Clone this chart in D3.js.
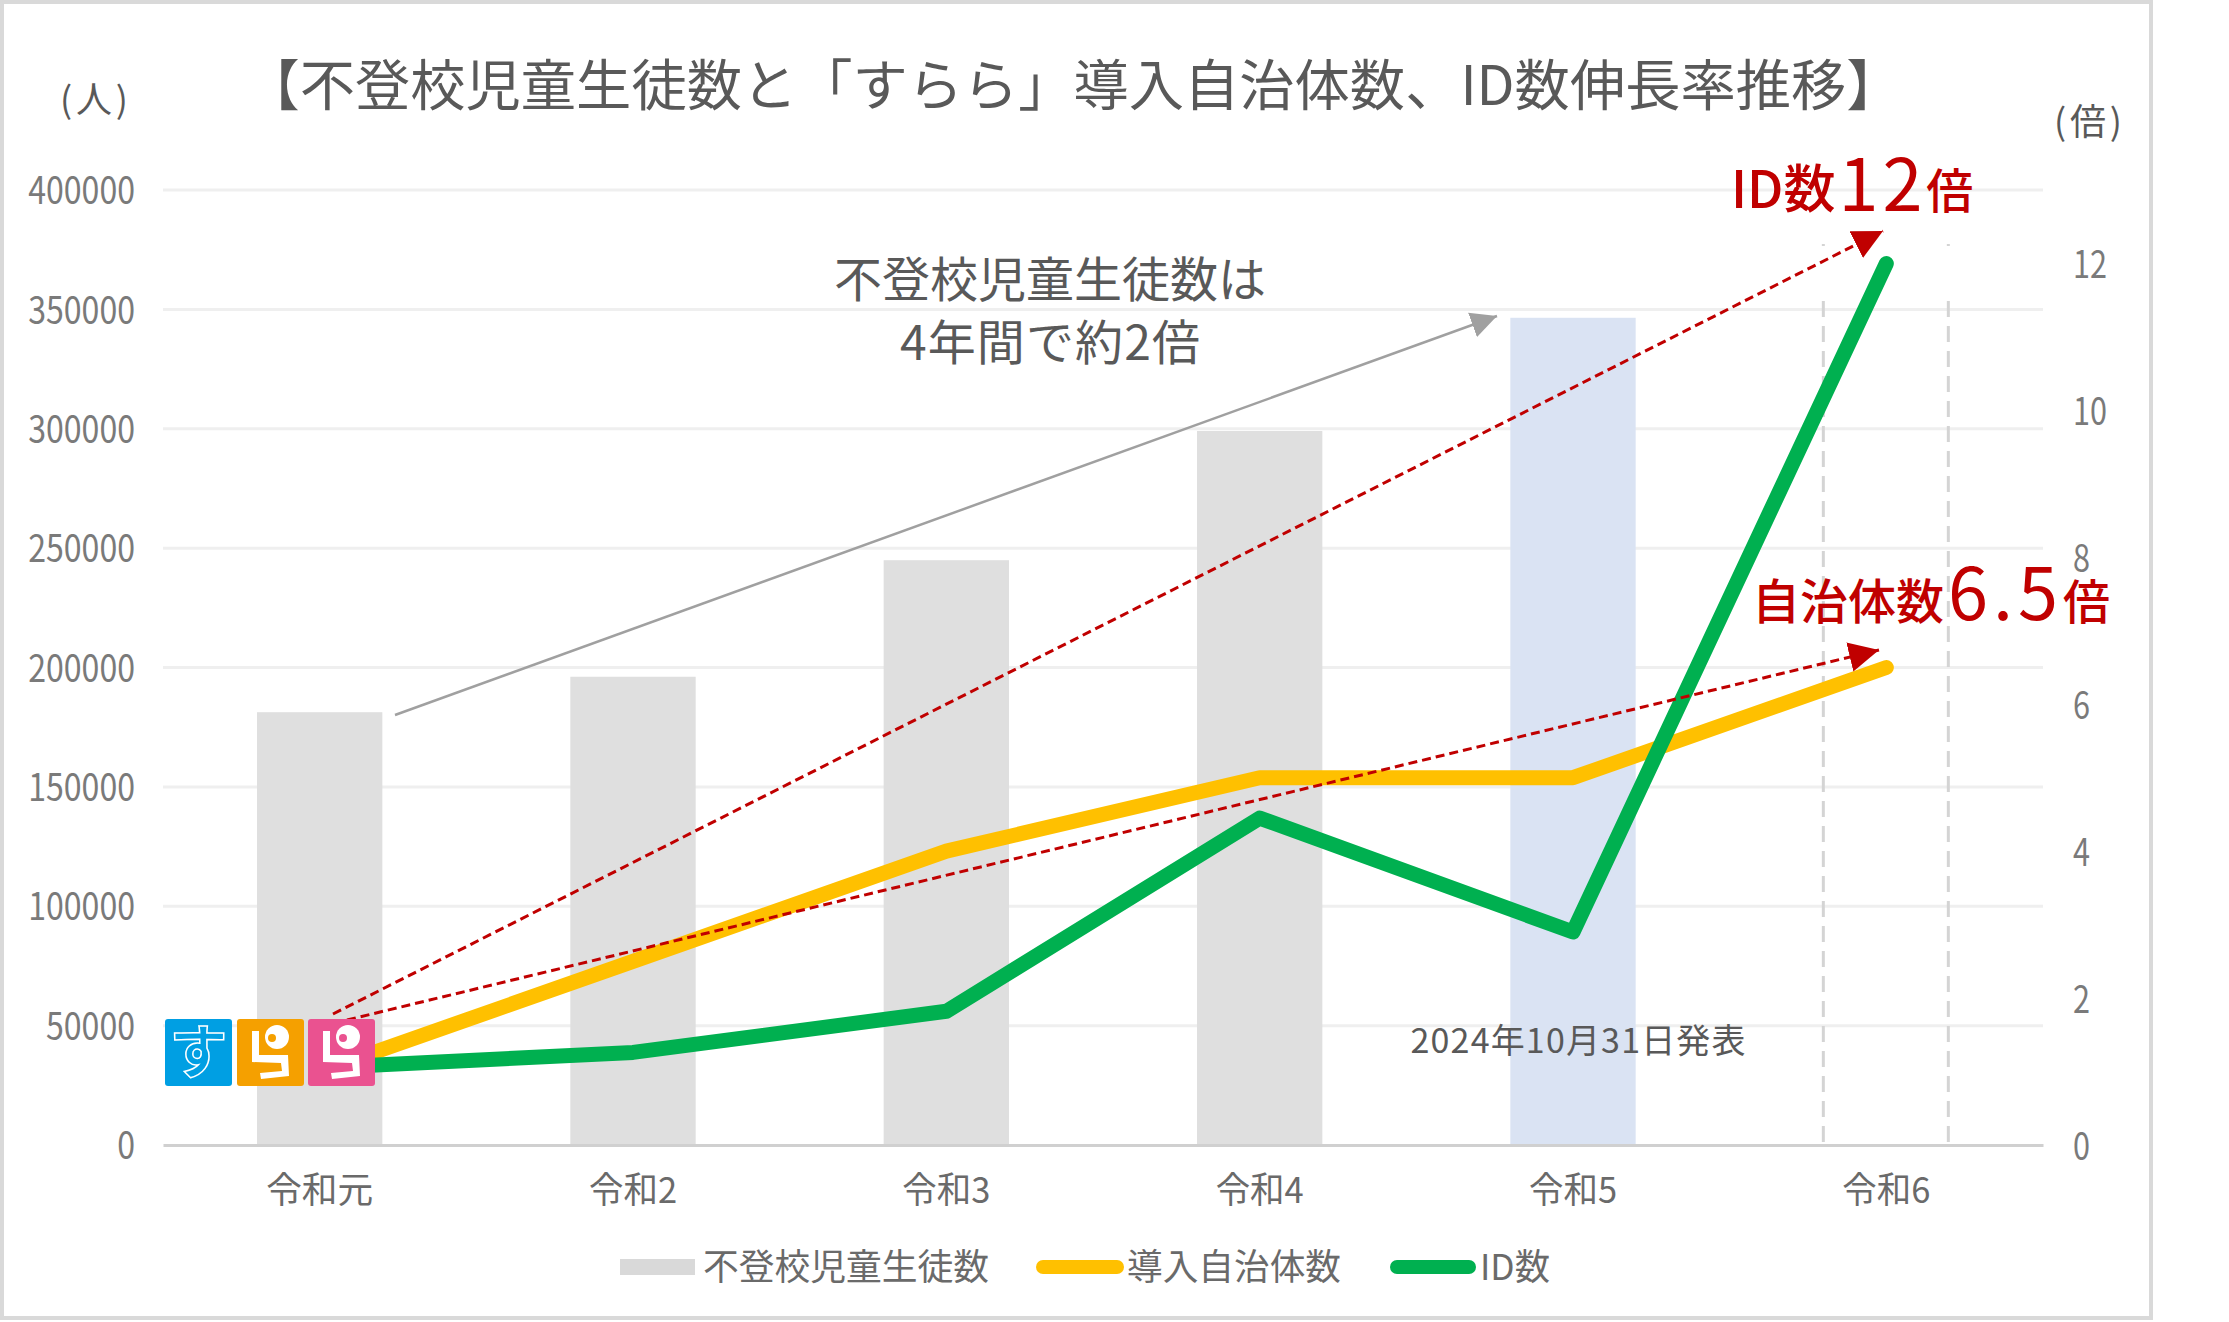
<!DOCTYPE html>
<html lang="ja">
<head>
<meta charset="utf-8">
<title>不登校児童生徒数と「すらら」導入自治体数、ID数伸長率推移</title>
<script src="https://cdn.jsdelivr.net/npm/d3@7"></script>
<style>
  html, body { margin: 0; background: #fff; }
  svg { display: block; }
  text { font-family: "Noto Sans CJK JP", "Noto Sans", sans-serif; fill: #595959; }
</style>
</head>
<body>
<svg id="chart" width="2229" height="1322"></svg>
<script>
// Fiscal years on the shared category axis
const years = ["令和元", "令和2", "令和3", "令和4", "令和5", "令和6"];
// Students absent from school, left axis (no figure yet for the last year)
const absentStudents = [181272, 196127, 244940, 299048, 346482];
// Growth multiples, right axis
const municipalities = [1, 2.5, 4, 5, 5, 6.5];
const idCounts = [1.05, 1.26, 1.82, 4.45, 2.9, 12];
// Axis ticks
const leftTicks = [0, 50000, 100000, 150000, 200000, 250000, 300000, 350000, 400000];
const rightTicks = [0, 2, 4, 6, 8, 10, 12];
// Legend entries
const legendLabels = ["不登校児童生徒数", "導入自治体数", "ID数"];

const plot = { left: 163, right: 2043, top: 190, bottom: 1145 };
const svg = d3.select("#chart");

const x = d3.scaleBand().domain(years).range([plot.left, plot.right]).paddingInner(0.6).paddingOuter(0.3);
const yLeft = d3.scaleLinear().domain([0, 400000]).range([plot.bottom, plot.top]);
const yRight = d3.scaleLinear().domain([0, 13]).range([plot.bottom, plot.top]);
const cx = d => x(d) + x.bandwidth() / 2;

// Outer frame
svg.append("rect").attr("x", 2).attr("y", 2).attr("width", 2149).attr("height", 1316)
  .attr("fill", "#fff").attr("stroke", "#d9d9d9").attr("stroke-width", 4);

// Condense a digit label to the given advance per character
function condense(sel, perChar) {
  sel.attr("textLength", function () { return this.textContent.length * perChar; })
     .attr("lengthAdjust", "spacingAndGlyphs");
}

// Horizontal grid
svg.append("g").selectAll("line").data(leftTicks.filter(t => t > 0)).join("line")
  .attr("x1", plot.left).attr("x2", plot.right)
  .attr("y1", d => yLeft(d)).attr("y2", d => yLeft(d))
  .attr("stroke", "#efefef").attr("stroke-width", 3);

// Bars
svg.append("g").selectAll("rect").data(absentStudents).join("rect")
  .attr("x", (d, i) => x(years[i]))
  .attr("width", x.bandwidth())
  .attr("y", d => yLeft(d))
  .attr("height", d => plot.bottom - yLeft(d))
  .attr("fill", (d, i) => i === 4 ? "#dae3f3" : "#dfdfdf");

// Dashed guides around the latest year
svg.append("g").selectAll("line").data([-63, 62]).join("line")
  .attr("x1", d => cx("令和6") + d).attr("x2", d => cx("令和6") + d)
  .attr("y1", 301).attr("y2", 1143)
  .attr("stroke", "#d4d4d4").attr("stroke-width", 3).attr("stroke-dasharray", "16 9");
svg.append("g").selectAll("line").data([-63, 62]).join("line")
  .attr("x1", d => cx("令和6") + d).attr("x2", d => cx("令和6") + d)
  .attr("y1", 244).attr("y2", 246)
  .attr("stroke", "#d4d4d4").attr("stroke-width", 3);

// Axes
const leftAxis = svg.append("g").attr("transform", `translate(${plot.left},0)`)
  .call(d3.axisLeft(yLeft).tickValues(leftTicks).tickFormat(d3.format("d")).tickSize(0).tickPadding(28));
leftAxis.select(".domain").remove();
leftAxis.selectAll("text").attr("font-size", 38).attr("dy", "0.36em").style("fill", "#7a7a7a").call(condense, 17.8);

const rightAxis = svg.append("g").attr("transform", `translate(${plot.right},0)`)
  .call(d3.axisRight(yRight).tickValues(rightTicks).tickFormat(d3.format("d")).tickSize(0).tickPadding(30));
rightAxis.select(".domain").remove();
rightAxis.selectAll("text").attr("font-size", 38).attr("dy", "0.37em").style("fill", "#7a7a7a").call(condense, 17);

const bottomAxis = svg.append("g").attr("transform", `translate(0,${plot.bottom})`)
  .call(d3.axisBottom(x).tickSize(0).tickPadding(32));
bottomAxis.select(".domain").attr("stroke", "#d0d0d0").attr("stroke-width", 3);
bottomAxis.selectAll("text").attr("font-size", 36).style("fill", "#6a6a6a")
  .attr("textLength", function () { return this.textContent === "令和元" ? 107 : 88; })
  .attr("lengthAdjust", "spacingAndGlyphs");

// Growth lines
const lineFrom = d3.line().x((d, i) => cx(years[i])).y(d => yRight(d));
const seriesLines = [
  { values: municipalities, color: "#ffc000" },
  { values: idCounts, color: "#00b050" }
];
svg.append("g").selectAll("path").data(seriesLines).join("path")
  .attr("d", d => lineFrom(d.values))
  .attr("fill", "none")
  .attr("stroke", d => d.color)
  .attr("stroke-width", 15)
  .attr("stroke-linecap", "round")
  .attr("stroke-linejoin", "round");

// Arrow heads
const defs = svg.append("defs");
[["grayHead", "#a0a0a0", 26, 26], ["redHead", "#c00000", 30, 30]].forEach(([id, fill, w, h]) => {
  defs.append("marker").attr("id", id).attr("markerUnits", "userSpaceOnUse")
    .attr("viewBox", "0 0 10 10").attr("refX", 10).attr("refY", 5)
    .attr("markerWidth", w).attr("markerHeight", h).attr("orient", "auto")
    .append("path").attr("d", "M0,0L10,5L0,10Z").attr("fill", fill);
});

// Trend arrows
const arrows = svg.append("g").attr("fill", "none");
arrows.append("line").attr("x1", 395).attr("y1", 715).attr("x2", 1497).attr("y2", 316)
  .attr("stroke", "#a0a0a0").attr("stroke-width", 2.5).attr("marker-end", "url(#grayHead)");
arrows.append("line").attr("x1", 333).attr("y1", 1014).attr("x2", 1883).attr("y2", 231)
  .attr("stroke", "#c00000").attr("stroke-width", 3).attr("stroke-dasharray", "9 5").attr("marker-end", "url(#redHead)");
arrows.append("line").attr("x1", 347).attr("y1", 1020).attr("x2", 1879).attr("y2", 650)
  .attr("stroke", "#c00000").attr("stroke-width", 3).attr("stroke-dasharray", "9 5").attr("marker-end", "url(#redHead)");

// Title and unit captions
svg.append("text").attr("x", 1073).attr("y", 105).attr("text-anchor", "middle")
  .attr("font-size", 55).attr("textLength", 1657).attr("lengthAdjust", "spacingAndGlyphs")
  .text("【不登校児童生徒数と「すらら」導入自治体数、ID数伸長率推移】");
svg.append("text").attr("x", 94).attr("y", 113).attr("text-anchor", "middle").attr("font-size", 36)
  .attr("textLength", 68).text("(人)");
svg.append("text").attr("x", 2088).attr("y", 135).attr("text-anchor", "middle").attr("font-size", 36)
  .attr("textLength", 68).text("(倍)");

// Notes on the plot
const note = svg.append("text").attr("text-anchor", "middle").attr("font-size", 48);
note.append("tspan").attr("x", 1050).attr("y", 297).text("不登校児童生徒数は");
svg.append("text").attr("text-anchor", "middle").attr("font-size", 48)
  .attr("x", 1050).attr("y", 360).attr("textLength", 300).text("4年間で約2倍");
svg.append("text").attr("x", 1578).attr("y", 1053).attr("text-anchor", "middle").attr("font-size", 34)
  .attr("textLength", 335).text("2024年10月31日発表");

// Red callouts, small parts sit slightly above the large figure's baseline
const callout = (xPos, yPos, parts) => {
  const t = svg.append("text").attr("x", xPos).attr("y", yPos);
  parts.forEach(p => t.append("tspan").attr("font-size", p.size)
    .attr("font-weight", p.weight).attr("dx", p.dx || 0).attr("dy", p.dy || 0)
    .attr("letter-spacing", p.spacing || 0).style("fill", "#c00000").text(p.text));
};
callout(1731, 208, [
  { text: "ID数", size: 52, weight: 500 },
  { text: "12", size: 72, weight: 400, dx: 3, dy: 3, spacing: 4 },
  { text: "倍", size: 47, weight: 500, dx: 0, dy: -3 }
]);
callout(1752, 619, [
  { text: "自治体数", size: 48, weight: 500 },
  { text: "6.5", size: 72, weight: 400, dx: 4, dy: 1, spacing: 5 },
  { text: "倍", size: 47, weight: 500, dx: 0, dy: -1 }
]);

// Brand tiles drawn over the start of the lines
const tiles = [
  { glyph: "す", color: "#009fe3", left: 165 },
  { glyph: "ら", color: "#f5a000", left: 237 },
  { glyph: "ら", color: "#ea5290", left: 308 }
];
const tile = svg.append("g").selectAll("g").data(tiles).join("g")
  .attr("transform", d => `translate(${d.left},1019)`);
tile.append("rect").attr("width", 67).attr("height", 67).attr("rx", 3).attr("fill", d => d.color);
tile.filter(d => d.glyph === "す").append("text")
  .attr("x", 33.5).attr("y", 54).attr("text-anchor", "middle").attr("font-size", 58).attr("font-weight", 700)
  .style("fill", d => d.color).style("stroke", "#fff").style("stroke-width", 1.5).text(d => d.glyph);
const ra = tile.filter(d => d.glyph === "ら");
ra.append("path").attr("fill", "#fff")
  .attr("d", "M15,12L22,12L22,36L51,36L52,57L24,60L23,54L45,52L44,44L15,43Z");
ra.append("circle").attr("cx", 40).attr("cy", 18).attr("r", 12).attr("fill", "#fff");
ra.append("circle").attr("cx", 35).attr("cy", 19).attr("r", 4).attr("fill", d => d.color);

// Legend
const legendY = 1267;
svg.append("rect").attr("x", 620).attr("y", legendY - 8).attr("width", 75).attr("height", 16).attr("fill", "#d9d9d9");
svg.append("line").attr("x1", 1043).attr("x2", 1117).attr("y1", legendY).attr("y2", legendY)
  .attr("stroke", "#ffc000").attr("stroke-width", 14).attr("stroke-linecap", "round");
svg.append("line").attr("x1", 1397).attr("x2", 1469).attr("y1", legendY).attr("y2", legendY)
  .attr("stroke", "#00b050").attr("stroke-width", 14).attr("stroke-linecap", "round");
svg.append("g").selectAll("text").data(legendLabels).join("text")
  .attr("x", (d, i) => [703, 1127, 1480][i])
  .attr("y", legendY + 13)
  .attr("font-size", 36)
  .attr("textLength", (d, i) => [286, 214, 70][i])
  .attr("lengthAdjust", "spacingAndGlyphs")
  .style("fill", "#6a6a6a")
  .text(d => d);
</script>
</body>
</html>
